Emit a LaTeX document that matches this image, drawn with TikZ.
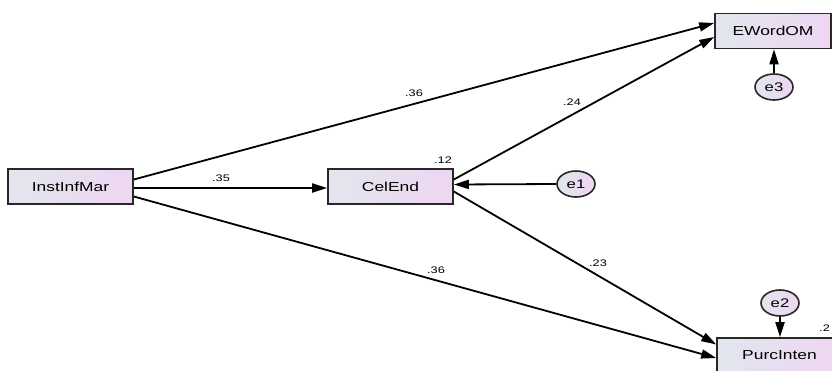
\documentclass[tikz,border=0pt]{standalone}
\usepackage{fontspec}
\usetikzlibrary{arrows.meta,shapes.geometric}
\newfontfamily\amosfont[FakeStretch=1.34]{Liberation Sans}
\definecolor{boxleft}{RGB}{226,230,238}
\definecolor{boxright}{RGB}{238,214,242}
\definecolor{edgegrey}{RGB}{40,40,40}
\tikzset{
  var/.style={rectangle, draw=edgegrey, line width=1.6pt,
    left color=boxleft, right color=boxright,
    minimum width=125pt, minimum height=35pt, inner sep=0pt,
    font=\amosfont\fontsize{13}{15}\selectfont},
  err/.style={ellipse, draw=edgegrey, line width=1.6pt,
    left color=boxleft, right color=boxright,
    minimum width=38pt, minimum height=26pt, inner sep=0pt,
    font=\amosfont\fontsize{12.5}{14}\selectfont},
  coef/.style={inner sep=0pt, font=\amosfont\fontsize{9.5}{11}\selectfont},
  link/.style={line width=1.8pt, draw=black,
    -{Triangle[length=15pt,width=9pt]}}
}
\begin{document}
\begin{tikzpicture}[x=1pt,y=-1pt]
\useasboundingbox (0,0) rectangle (832,370);
% observed variables
\node[var] (inst) at (70.5,186.5) {InstInfMar};
\node[var] (cel) at (390.5,186.5) {CelEnd};
\node[var, minimum width=116pt] (ewom) at (773,31) {EWordOM};
\node[var] (purc) at (779.5,355.5) {PurcInten};
% error terms
\node[err] (e1) at (576,184) {e1};
\node[err] (e3) at (774,87) {e3};
\node[err] (e2) at (780,303) {e2};
% structural paths
\draw[link] ([yshift=7pt]inst.east) -- ([yshift=8pt]ewom.west);
\draw[link] ([yshift=-1.5pt]inst.east) -- ([yshift=-1.5pt]cel.west);
\draw[link] ([yshift=-10pt]inst.east) -- ([yshift=-2.5pt]purc.west);
\draw[link] ([yshift=7pt]cel.east) -- ([yshift=-6pt]ewom.west);
\draw[link] ([yshift=-5pt]cel.east) -- ([yshift=11pt]purc.west);
% error paths
\draw[link] (e1.west) -- ([yshift=2pt]cel.east);
\draw[link] (e3.north) -- (e3.north |- ewom.south);
\draw[link] (e2.south) -- (e2.south |- purc.north);
% coefficients
\node[coef] (c1) at (414,93) {.36};
\node[coef] (c2) at (572,102) {.24};
\node[coef] (c3) at (221,178) {.35};
\node[coef] (c4) at (443,160) {.12};
\node[coef] (c5) at (436,270) {.36};
\node[coef] (c6) at (598,263) {.23};
\node[coef, anchor=west] (c7) at (819,328) {.2};
\end{tikzpicture}
\end{document}
